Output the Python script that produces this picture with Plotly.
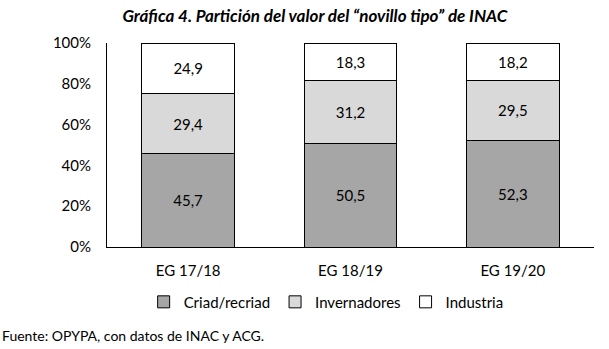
import plotly.graph_objects as go

categories = ["EG 17/18", "EG 18/19", "EG 19/20"]
criad = [45.7, 50.5, 52.3]
invern = [29.4, 31.2, 29.5]
indus = [24.9, 18.3, 18.2]
series_names = ["Criad/recriad", "Invernadores", "Industria"]
colors = ["#a6a6a6", "#d9d9d9", "#ffffff"]

FONT = "Lato"

fig = go.Figure()
for name, vals, col in zip(series_names, [criad, invern, indus], colors):
    fig.add_trace(go.Bar(
        x=categories, y=vals, name=name,
        marker=dict(color=col, line=dict(color="#000000", width=1)),
        text=[f"{v:.1f}".replace(".", ",") for v in vals],
        textposition="inside", insidetextanchor="middle",
        textfont=dict(family=FONT, size=15, color="#000000"),
        width=0.57,
    ))

fig.update_layout(
    barmode="stack",
    width=609, height=349,
    margin=dict(l=107, r=15, t=43, b=102),
    paper_bgcolor="white", plot_bgcolor="white",
    font=dict(family=FONT, size=14, color="#000000"),
    title=dict(text="<b><i>Gráfica 4. Partición del valor del “novillo tipo” de INAC</i></b>",
               x=0.517, xanchor="center", y=0.955, yanchor="middle",
               font=dict(family=FONT, size=17, color="#000000")),
    showlegend=True,
    legend=dict(orientation="h", x=0.45, xanchor="center", y=-0.27, yanchor="middle",
                font=dict(family=FONT, size=15), traceorder="normal",
                itemwidth=30),
    uniformtext=dict(mode="show", minsize=10),
)
fig.update_yaxes(range=[0, 100], tickvals=[0, 20, 40, 60, 80, 100],
                 ticktext=["0%", "20%", "40%", "60%", "80%", "100%"],
                 showgrid=False, showline=True, linecolor="#000000", linewidth=1,
                 ticks="", ticklen=0, ticklabelstandoff=12,
                 tickfont=dict(family=FONT, size=15), zeroline=False)
fig.update_xaxes(showline=True, linecolor="#000000", linewidth=1, showgrid=False,
                 ticklabelstandoff=10, tickfont=dict(family=FONT, size=15))

fig.add_annotation(text="Fuente: OPYPA, con datos de INAC y ACG.", xref="paper", yref="paper",
                   x=-107/487, xanchor="left", y=-88/204, yanchor="middle", showarrow=False,
                   font=dict(family=FONT, size=14, color="#000000"))

fig.write_html("out.html")
